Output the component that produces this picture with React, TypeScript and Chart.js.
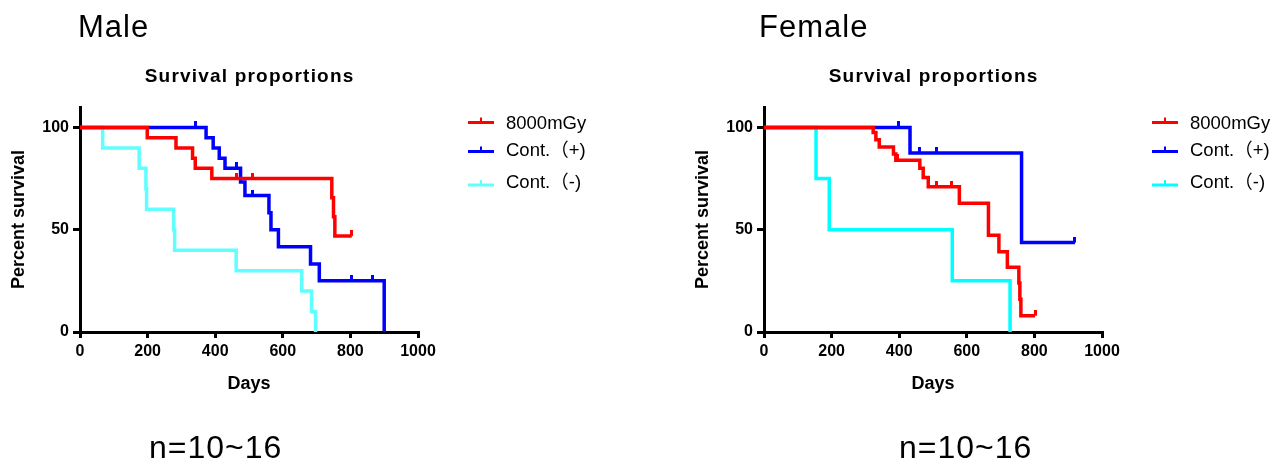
import React, { useEffect, useRef } from "react";
import { Chart, registerables } from "chart.js";

Chart.register(...registerables);

// ---------- data ----------
const xTickValues = [0, 200, 400, 600, 800, 1000];
const yTickValues = [0, 50, 100];
const seriesLabels = ["8000mGy", "Cont.（+)", "Cont.（-)"];
const chartTitle = "Survival proportions";
const xTitle = "Days";
const yTitle = "Percent survival";

// Male
const maleRedDays = [0, 199, 284, 333, 341, 390, 462, 511, 745, 750, 754, 804];
const maleRedSurv = [100, 95, 90, 85, 80, 75, 75, 75, 65.6, 56.3, 46.9, 46.9];
const maleRedCensored = [462, 511, 804];

const maleBlueDays = [0, 342, 373, 394, 412, 429, 462, 475, 488, 511, 559, 565, 587, 682, 708, 804, 866, 900];
const maleBlueSurv = [100, 100, 95, 90, 85, 80, 80, 73.3, 66.7, 66.7, 58.3, 50, 41.7, 33.3, 25, 25, 25, 0];
const maleBlueCensored = [342, 462, 511, 804, 866];

const maleCyanDays = [0, 67, 175, 195, 197, 277, 280, 462, 656, 685, 697];
const maleCyanSurv = [100, 90, 80, 70, 60, 50, 40, 30, 20, 10, 0];
const maleCyanCensored: number[] = [];

// Female
const femaleRedDays = [0, 323, 331, 341, 383, 390, 396, 461, 471, 486, 511, 555, 578, 664, 695, 720, 754, 757, 760, 802];
const femaleRedSurv = [100, 97.5, 94, 90.5, 87, 84, 84, 80, 75.5, 71, 71, 71, 63, 47.3, 39.2, 31.7, 24, 16, 8, 8];
const femaleRedCensored = [396, 511, 555, 802];

const femaleBlueDays = [0, 397, 432, 460, 510, 762, 920];
const femaleBlueSurv = [100, 100, 87.5, 87.5, 87.5, 43.75, 43.75];
const femaleBlueCensored = [397, 460, 510, 920];

const femaleCyanDays = [0, 154, 193, 557, 728];
const femaleCyanSurv = [100, 75, 50, 25, 0];
const femaleCyanCensored: number[] = [];

const maleColors = ["#FF0000", "#0000FF", "#60FFFF"];
const femaleColors = ["#FF0000", "#0000FF", "#00FFFF"];

// ---------- helpers ----------
type Series = { days: number[]; surv: number[]; censored: number[] };

const tickCache: Record<string, HTMLCanvasElement> = {};
function tickImage(color: string): HTMLCanvasElement {
  if (tickCache[color]) return tickCache[color];
  const c = document.createElement("canvas");
  c.width = 3;
  c.height = 12;
  const g = c.getContext("2d")!;
  g.fillStyle = color;
  g.fillRect(0, 0, 3, 6);
  tickCache[color] = c;
  return c;
}

const FONT = '"Liberation Sans", Arial, sans-serif';

const kmDecor = {
  id: "kmDecor",
  afterDraw(chart: any, _args: any, opts: any) {
    const ctx = chart.ctx as CanvasRenderingContext2D;
    const area = chart.chartArea;
    ctx.save();
    ctx.fillStyle = "#000";
    ctx.font = `bold 19px ${FONT}`;
    (ctx as any).letterSpacing = "1.2px";
    ctx.textAlign = "center";
    ctx.textBaseline = "alphabetic";
    ctx.fillText(opts.title, (area.left + area.right) / 2 + 0.6, opts.titleY);
    (ctx as any).letterSpacing = "0px";

    chart.data.datasets.forEach((ds: any, i: number) => {
      const y = opts.lineY[i];
      ctx.strokeStyle = ds.borderColor;
      ctx.lineWidth = 3;
      ctx.beginPath();
      ctx.moveTo(opts.legendX, y);
      ctx.lineTo(opts.legendX + 26, y);
      ctx.stroke();
      ctx.lineWidth = 2;
      ctx.beginPath();
      ctx.moveTo(opts.legendX + 13, y);
      ctx.lineTo(opts.legendX + 13, y - 5);
      ctx.stroke();
      ctx.fillStyle = "#000";
      ctx.font = `18.5px "Liberation Sans", "Noto Sans CJK JP", sans-serif`;
      ctx.textAlign = "left";
      ctx.fillText(ds.label, opts.textX, opts.textY[i]);
    });
    ctx.restore();
  },
};

function makeConfig(series: Series[], colors: string[]): any {
  return {
    type: "line",
    data: {
      datasets: series.map((s, i) => ({
        label: seriesLabels[i],
        data: s.days.map((d, j) => ({ x: d, y: s.surv[j] })),
        borderColor: colors[i],
        backgroundColor: colors[i],
        borderWidth: 3.5,
        stepped: true,
        fill: false,
        tension: 0,
        borderJoinStyle: "miter",
        pointStyle: tickImage(colors[i]),
        pointRadius: (c: any) => (c.raw && s.censored.includes(c.raw.x) ? 3 : 0),
        pointHoverRadius: 0,
      })),
    },
    options: {
      responsive: false,
      maintainAspectRatio: false,
      animation: false,
      devicePixelRatio: 1,
      events: [],
      layout: { padding: { left: 0, right: 178, top: 107, bottom: 0 } },
      plugins: {
        legend: { display: false },
        tooltip: { enabled: false },
        title: { display: false },
        kmDecor: {
          title: chartTitle,
          titleY: 81.5,
          legendX: 468,
          lineY: [122.5, 151.5, 185],
          textX: 506,
          textY: [128.5, 156, 187.5],
        },
      },
      scales: {
        x: {
          type: "linear",
          min: 0,
          max: 1000,
          afterBuildTicks: (sc: any) => {
            sc.ticks = xTickValues.map((v) => ({ value: v }));
          },
          afterFit: (sc: any) => {
            sc.height = 129;
          },
          grid: {
            display: true,
            drawOnChartArea: false,
            drawTicks: true,
            tickLength: 6,
            color: "#000",
            lineWidth: 3,
          },
          border: { display: true, color: "#000", width: 3 },
          ticks: {
            color: "#000",
            font: { family: FONT, size: 16, weight: "bold" },
            padding: 4,
            maxRotation: 0,
            autoSkip: false,
            callback: (v: any) => String(v),
          },
          title: {
            display: true,
            text: xTitle,
            color: "#000",
            font: { family: FONT, size: 18, weight: "bold" },
            padding: { top: 0, bottom: 66 },
          },
        },
        y: {
          type: "linear",
          min: 0,
          max: 110,
          afterBuildTicks: (sc: any) => {
            sc.ticks = yTickValues.map((v) => ({ value: v }));
          },
          afterFit: (sc: any) => {
            sc.width = 80;
          },
          grid: {
            display: true,
            drawOnChartArea: false,
            drawTicks: true,
            tickLength: 7,
            color: "#000",
            lineWidth: 3,
          },
          border: { display: true, color: "#000", width: 3 },
          ticks: {
            color: "#000",
            font: { family: FONT, size: 16, weight: "bold" },
            padding: 4,
            autoSkip: false,
            callback: (v: any) => String(v),
          },
          title: {
            display: true,
            text: yTitle,
            color: "#000",
            font: { family: FONT, size: 18, weight: "bold" },
            padding: { top: 8, bottom: 0 },
          },
        },
      },
    },
    plugins: [kmDecor],
  };
}

function KMChart({ series, colors, left }: { series: Series[]; colors: string[]; left: number }) {
  const ref = useRef<HTMLCanvasElement>(null);
  useEffect(() => {
    if (!ref.current) return;
    const chart = new Chart(ref.current, makeConfig(series, colors));
    return () => chart.destroy();
  }, []);
  return (
    <canvas
      ref={ref}
      width={596}
      height={461}
      style={{ position: "absolute", left, top: 0, width: 596, height: 461 }}
    />
  );
}

const bigText: React.CSSProperties = {
  position: "absolute",
  fontFamily: FONT,
  color: "#000",
  lineHeight: 1,
  letterSpacing: "1px",
  whiteSpace: "nowrap",
};

export default function App() {
  const male: Series[] = [
    { days: maleRedDays, surv: maleRedSurv, censored: maleRedCensored },
    { days: maleBlueDays, surv: maleBlueSurv, censored: maleBlueCensored },
    { days: maleCyanDays, surv: maleCyanSurv, censored: maleCyanCensored },
  ];
  const female: Series[] = [
    { days: femaleRedDays, surv: femaleRedSurv, censored: femaleRedCensored },
    { days: femaleBlueDays, surv: femaleBlueSurv, censored: femaleBlueCensored },
    { days: femaleCyanDays, surv: femaleCyanSurv, censored: femaleCyanCensored },
  ];
  return (
    <div
      style={{
        position: "fixed",
        left: 0,
        top: 0,
        width: 1280,
        height: 461,
        background: "#fff",
        overflow: "hidden",
      }}
    >
      <KMChart series={male} colors={maleColors} left={0} />
      <KMChart series={female} colors={femaleColors} left={684} />
      <div style={{ ...bigText, left: 78, top: 11, fontSize: 31 }}>Male</div>
      <div style={{ ...bigText, left: 759, top: 11, fontSize: 31 }}>Female</div>
      <div style={{ ...bigText, left: 149, top: 431, fontSize: 32 }}>n=10~16</div>
      <div style={{ ...bigText, left: 899, top: 431, fontSize: 32 }}>n=10~16</div>
    </div>
  );
}
